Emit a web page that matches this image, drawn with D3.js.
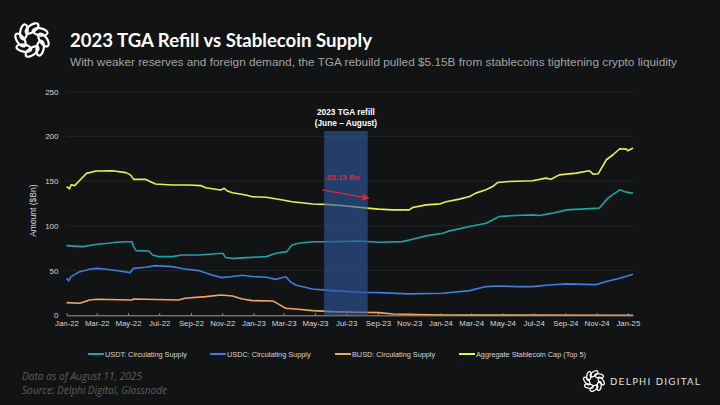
<!DOCTYPE html>
<html lang="en">
<head>
<meta charset="UTF-8">
<title>2023 TGA Refill vs Stablecoin Supply</title>
<script src="https://cdn.jsdelivr.net/npm/d3@7"></script>
<style>
  html, body { margin: 0; padding: 0; background: #121315; }
  svg { display: block; }
</style>
</head>
<body>
<svg width="720" height="405" id="mainsvg"></svg>
<script>
// ---- data ($Bn) ----
const usdt = [
  ["2022-01-01",77.9],["2022-02-02",76.8],["2022-03-05",79.7],["2022-03-24",80.5],["2022-04-07",81.6],
  ["2022-04-27",82.3],["2022-05-09",82.3],["2022-05-12",76.8],["2022-05-17",72.3],["2022-06-11",71.9],
  ["2022-06-18",67.4],["2022-06-30",65.6],["2022-07-26",65.6],["2022-08-15",67.4],["2022-09-17",67.4],
  ["2022-11-02",69.3],["2022-11-08",64.5],["2022-11-21",63.7],["2022-12-30",64.8],["2023-01-26",65.6],
  ["2023-02-14",69.3],["2023-03-07",71.2],["2023-03-17",78.6],["2023-03-30",80.5],["2023-04-27",82.3],
  ["2023-06-03",82.3],["2023-07-25",83.0],["2023-09-03",81.7],["2023-10-19",82.4],["2023-11-08",85.0],
  ["2023-12-04",88.8],["2024-01-06",91.8],["2024-01-19",94.4],["2024-02-27",99.3],["2024-03-30",103.0],
  ["2024-04-25",110.4],["2024-05-27",111.6],["2024-06-29",112.3],["2024-07-12",111.6],["2024-08-07",114.2],
  ["2024-09-03",117.9],["2024-10-11",119.0],["2024-11-06",119.8],["2024-11-23",131.0],["2024-12-16",140.3],
  ["2024-12-29",137.7],["2025-01-11",136.6]
];
const usdc = [
  ["2022-01-01",41.4],["2022-01-05",38.5],["2022-01-10",43.3],["2022-01-27",48.8],["2022-02-15",51.5],
  ["2022-03-01",52.5],["2022-03-20",51.5],["2022-04-15",49.6],["2022-05-05",47.7],["2022-05-12",52.5],
  ["2022-06-04",53.7],["2022-06-24",55.5],["2022-07-26",54.4],["2022-08-20",51.8],["2022-09-17",49.9],
  ["2022-10-12",45.1],["2022-10-31",42.1],["2022-11-21",43.3],["2022-12-10",44.7],["2022-12-30",43.3],
  ["2023-01-26",42.5],["2023-02-14",40.2],["2023-03-05",43.2],["2023-03-14",37.6],["2023-03-24",33.9],
  ["2023-04-26",29.4],["2023-06-03",27.6],["2023-07-25",25.7],["2023-09-03",25.4],["2023-11-01",23.9],
  ["2024-01-06",24.6],["2024-02-27",27.6],["2024-03-30",32.1],["2024-04-25",32.8],["2024-05-27",32.1],
  ["2024-06-29",32.1],["2024-07-25",33.6],["2024-09-03",35.1],["2024-10-31",34.3],["2024-11-20",37.7],
  ["2024-12-16",41.4],["2025-01-11",45.9]
];
const busd = [
  ["2022-01-01",14.2],["2022-01-27",13.4],["2022-02-15",17.1],["2022-03-01",17.9],["2022-05-09",17.1],
  ["2022-05-12",18.3],["2022-08-08",17.1],["2022-08-20",19.0],["2022-09-30",20.9],["2022-10-29",22.7],
  ["2022-11-21",21.6],["2022-12-10",18.3],["2022-12-30",16.4],["2023-02-08",16.0],["2023-02-14",14.2],
  ["2023-03-05",7.8],["2023-03-30",6.7],["2023-04-27",5.2],["2023-06-03",4.1],["2023-07-25",3.4],
  ["2023-09-03",3.0],["2023-10-01",1.5],["2024-01-06",0.4],["2024-03-01",0.2],["2025-01-11",0.1]
];
const aggregate = [
  ["2022-01-01",143.8],["2022-01-07",141.5],["2022-01-10",146.0],["2022-01-17",145.0],["2022-01-27",151.0],
  ["2022-02-09",158.7],["2022-02-22",160.6],["2022-03-01",161.3],["2022-04-01",161.7],["2022-04-27",159.5],
  ["2022-05-06",157.0],["2022-05-12",152.0],["2022-06-04",152.0],["2022-06-14",149.4],["2022-06-24",146.8],
  ["2022-07-26",145.7],["2022-08-28",145.7],["2022-09-20",145.0],["2022-09-30",142.7],["2022-10-29",140.0],
  ["2022-11-05",142.0],["2022-11-11",139.0],["2022-11-21",137.0],["2022-12-17",134.5],["2022-12-30",132.6],
  ["2023-01-26",132.0],["2023-02-27",129.0],["2023-03-17",127.0],["2023-04-27",124.5],["2023-05-21",124.0],
  ["2023-06-27",122.5],["2023-08-11",119.8],["2023-09-03",118.7],["2023-09-29",117.9],["2023-11-01",117.9],
  ["2023-11-08",120.5],["2023-12-04",123.5],["2024-01-01",124.6],["2024-01-12",127.0],["2024-02-07",129.9],
  ["2024-02-27",132.8],["2024-03-10",136.6],["2024-03-30",140.3],["2024-04-12",144.0],["2024-04-22",148.5],
  ["2024-05-14",149.6],["2024-06-29",150.4],["2024-07-25",153.4],["2024-08-04",152.2],["2024-08-20",157.0],
  ["2024-09-22",159.0],["2024-10-18",161.6],["2024-10-25",157.8],["2024-11-04",158.2],["2024-11-20",173.9],
  ["2024-12-03",179.5],["2024-12-16",186.2],["2024-12-29",185.8],["2025-01-01",184.0],["2025-01-11",187.0]
];
const seriesNames = ["USDT: Circulating Supply", "USDC: Circulating Supply", "BUSD: Circulating Supply", "Aggregate Stablecoin Cap (Top 5)"];
const seriesColors = ["#1fa3a6", "#3f7de3", "#f2a65a", "#e9f04c"];
const yTicks = [0, 50, 100, 150, 200, 250];
const refillWindow = ["2023-05-19", "2023-08-12"];
const refillArrow = [["2023-05-15", 140.2], ["2023-08-13", 131.0]];

const svg = d3.select('svg');
const width = +svg.attr('width');
const height = +svg.attr('height');
const margin = {top: 91.7, right: 87, bottom: 89.7, left: 66.5};
const innerWidth = width - margin.left - margin.right;
const innerHeight = height - margin.top - margin.bottom;
const parse = d3.timeParse('%Y-%m-%d');
const sans = '"Liberation Sans", Arial, sans-serif';

// background
svg.append('rect').attr('width', width).attr('height', height).attr('fill', '#121315');

// logo: ring of links
const drawKnot = (g, cx, cy, r, rx, ry, sw) => {
  d3.range(8).forEach(i => {
    const a = i * 45;
    const px = cx + r * Math.cos(a * Math.PI / 180);
    const py = cy + r * Math.sin(a * Math.PI / 180);
    g.append('ellipse')
      .attr('cx', px).attr('cy', py).attr('rx', rx).attr('ry', ry)
      .attr('transform', `rotate(${a + 55}, ${px}, ${py})`)
      .attr('fill', 'none').attr('stroke', '#ffffff').attr('stroke-width', sw);
  });
};
drawKnot(svg.append('g'), 32, 40, 11.5, 7.5, 3.6, 2.2);

// title + subtitle
svg.append('text').attr('x', 70).attr('y', 47)
  .attr('font-family', 'Lato, "Open Sans", sans-serif').attr('font-weight', 700)
  .style('font-size', '19.5px').attr('fill', '#ffffff')
  .attr('textLength', 302).attr('lengthAdjust', 'spacingAndGlyphs')
  .text('2023 TGA Refill vs Stablecoin Supply');
svg.append('text').attr('x', 70).attr('y', 66)
  .attr('font-family', sans)
  .style('font-size', '11.8px').attr('fill', '#a3a3a3')
  .text('With weaker reserves and foreign demand, the TGA rebuild pulled $5.15B from stablecoins tightening crypto liquidity');

const mainGroup = svg.append('g').attr('transform', `translate(${margin.left}, ${margin.top})`);

const xScale = d3.scaleTime()
  .domain([parse('2022-01-01'), parse('2025-01-11')])
  .range([0, innerWidth]);
const yScale = d3.scaleLinear().domain([0, 250]).range([innerHeight, 0]);

// gridlines
mainGroup.append('g').selectAll('line').data(yTicks.filter(d => d > 0)).join('line')
  .attr('x1', 0).attr('x2', innerWidth)
  .attr('y1', d => yScale(d)).attr('y2', d => yScale(d))
  .attr('stroke', '#26282c').attr('stroke-width', 0.8);

// y axis (labels only)
const yAxisGroup = mainGroup.append('g')
  .attr('font-family', sans).attr('font-size', 8)
  .call(d3.axisLeft(yScale).tickValues(yTicks).tickSize(0).tickPadding(8));
yAxisGroup.attr('font-family', sans).attr('font-size', 8);
yAxisGroup.select('.domain').remove();
yAxisGroup.selectAll('.tick text').attr('fill', '#d6d6d6');

mainGroup.append('text')
  .attr('transform', 'rotate(-90)')
  .attr('x', -yScale(117)).attr('y', -31)
  .attr('text-anchor', 'middle')
  .attr('font-family', sans)
  .style('font-size', '8.5px').attr('fill', '#d6d6d6')
  .text('Amount ($Bn)');

// lines
const line = d3.line()
  .x(d => xScale(parse(d[0])))
  .y(d => yScale(d[1]));
[usdt, usdc, busd, aggregate].forEach((s, i) => {
  mainGroup.append('path').datum(s)
    .attr('d', line)
    .attr('fill', 'none')
    .attr('stroke', seriesColors[i])
    .attr('stroke-width', 1.6)
    .attr('stroke-linejoin', 'round');
});

// x axis
const xAxisGroup = mainGroup.append('g')
  .attr('transform', `translate(0, ${innerHeight})`)
  .call(d3.axisBottom(xScale)
    .ticks(d3.timeMonth.every(2))
    .tickFormat(d3.timeFormat('%b-%y'))
    .tickSizeInner(-2).tickSizeOuter(0).tickPadding(5));
xAxisGroup.attr('font-family', sans).attr('font-size', 7.8);
xAxisGroup.select('.domain').attr('stroke', '#9a9a9a').attr('stroke-width', 1);
xAxisGroup.selectAll('.tick line').attr('stroke', '#9a9a9a');
xAxisGroup.selectAll('.tick text').attr('fill', '#d6d6d6');

// refill window
const bx0 = xScale(parse(refillWindow[0]));
const bx1 = xScale(parse(refillWindow[1]));
mainGroup.append('rect')
  .attr('x', bx0).attr('width', bx1 - bx0)
  .attr('y', yScale(206)).attr('height', innerHeight - yScale(206))
  .attr('fill', 'rgba(48,88,160,0.62)');
const bandLabel = mainGroup.append('text')
  .attr('text-anchor', 'middle')
  .attr('font-family', sans)
  .attr('font-weight', 700).style('font-size', '8.3px').attr('fill', '#ffffff');
bandLabel.append('tspan').attr('x', (bx0 + bx1) / 2).attr('y', yScale(224)).text('2023 TGA refill');
bandLabel.append('tspan').attr('x', (bx0 + bx1) / 2).attr('y', yScale(211.5)).text('(June – August)');

// -$5.15 Bn arrow
svg.append('defs').append('marker')
  .attr('id', 'arrowhead').attr('viewBox', '0 0 10 10')
  .attr('refX', 8).attr('refY', 5).attr('markerWidth', 5).attr('markerHeight', 5)
  .attr('orient', 'auto')
  .append('path').attr('d', 'M0,0 L10,5 L0,10 z').attr('fill', '#d92b2b');
mainGroup.append('line')
  .attr('x1', xScale(parse(refillArrow[0][0]))).attr('y1', yScale(refillArrow[0][1]))
  .attr('x2', xScale(parse(refillArrow[1][0]))).attr('y2', yScale(refillArrow[1][1]))
  .attr('stroke', '#d92b2b').attr('stroke-width', 1.4)
  .attr('marker-end', 'url(#arrowhead)');
mainGroup.append('text')
  .attr('x', bx0).attr('y', yScale(151))
  .attr('font-family', sans)
  .attr('font-weight', 700).style('font-size', '8px').attr('fill', '#d92b2b')
  .text('-$5.15 Bn');

// legend
const legendX = [88, 210, 335, 459];
const legend = svg.append('g').attr('transform', 'translate(0, 354)');
seriesNames.forEach((name, i) => {
  legend.append('line')
    .attr('x1', legendX[i]).attr('x2', legendX[i] + 16).attr('y1', 0).attr('y2', 0)
    .attr('stroke', seriesColors[i]).attr('stroke-width', 2);
  legend.append('text')
    .attr('x', legendX[i] + 17).attr('y', 2.6)
    .attr('font-family', sans)
    .style('font-size', '7.3px').attr('fill', '#d6d6d6')
    .text(name);
});

// footer
const footer = svg.append('g')
  .attr('font-family', '"Open Sans", Lato, sans-serif')
  .attr('font-style', 'italic').attr('fill', '#5e5e5e');
footer.append('text').attr('x', 22).attr('y', 380).style('font-size', '11.5px')
  .attr('textLength', 120).attr('lengthAdjust', 'spacingAndGlyphs')
  .text('Data as of August 11, 2025');
footer.append('text').attr('x', 22).attr('y', 394).style('font-size', '11.5px')
  .attr('textLength', 145).attr('lengthAdjust', 'spacingAndGlyphs')
  .text('Source: Delphi Digital, Glassnode');

drawKnot(svg.append('g'), 594, 381, 7.2, 4.4, 2.1, 1.3);
svg.append('text').attr('x', 610).attr('y', 384.5)
  .attr('font-family', '"DejaVu Sans", sans-serif')
  .style('font-size', '9.5px').attr('fill', '#e0e0e0')
  .attr('textLength', 90).attr('lengthAdjust', 'spacing')
  .text('DELPHI DIGITAL');
</script>
</body>
</html>
